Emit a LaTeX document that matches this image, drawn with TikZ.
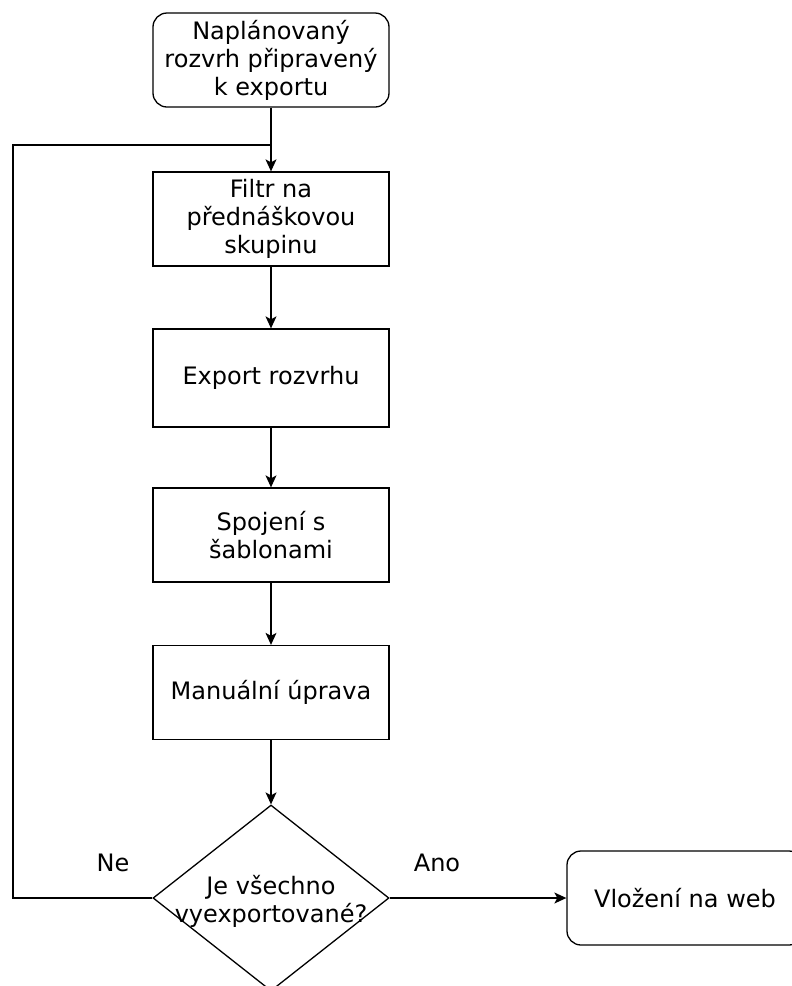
\documentclass[tikz,border=0pt]{standalone}
\usepackage{fontspec}
\setmainfont{DejaVu Sans}
\usetikzlibrary{shapes.geometric,arrows.meta}
\begin{document}
\begin{tikzpicture}[x=1pt,y=-1pt,
  every node/.style={font=\fontsize{24}{28}\selectfont, align=center},
  box/.style={draw, line width=1.3pt, minimum width=236pt, minimum height=94pt, inner sep=0pt},
  rbox/.style={box, rounded corners=14pt},
  conn/.style={line width=1.3pt, -{Stealth[length=12pt,width=11pt,inset=3pt]}},
  lbl/.style={font=\fontsize{24}{28}\selectfont}]
\useasboundingbox (0,0) rectangle (792,986);
\clip (0,0) rectangle (792,986);
\node[rbox] (start) at (271,60) {Naplánovaný\\rozvrh připravený\\k exportu};
\node[box] (filtr) at (271,219) {Filtr na\\přednáškovou\\skupinu};
\node[box, minimum height=98pt] (exp) at (271,378) {Export rozvrhu};
\node[box] (spoj) at (271,535) {Spojení s\\šablonami};
\node[box] (man) at (271,692.5) {Manuální úprava};
\node[draw, line width=1.3pt, shape=diamond, minimum width=236pt, minimum height=186pt, inner sep=0pt, shape aspect=1.27] (dec) at (271,898) {};
\node at (271,901) (dectext) {Je všechno\\vyexportované?};
\node[rbox] (web) at (685,898) {Vložení na web};
\coordinate (j) at (271,145);
\coordinate (l1) at (13,898);
\coordinate (l2) at (13,145);
\draw[line width=1.3pt] (start.south) -- (j);
\draw[conn] (j) -- (filtr.north);
\draw[conn] (filtr) -- (exp);
\draw[conn] (exp) -- (spoj);
\draw[conn] (spoj) -- (man);
\draw[conn] (man) -- (dec.north);
\draw[conn] (dec.east) -- (web.west);
\draw[line width=1.3pt] (dec.west) -- (l1) -- (l2) -- (j);
\node[lbl] (ne) at (113,863) {Ne};
\node[lbl] (ano) at (437,863) {Ano};
\end{tikzpicture}
\end{document}
